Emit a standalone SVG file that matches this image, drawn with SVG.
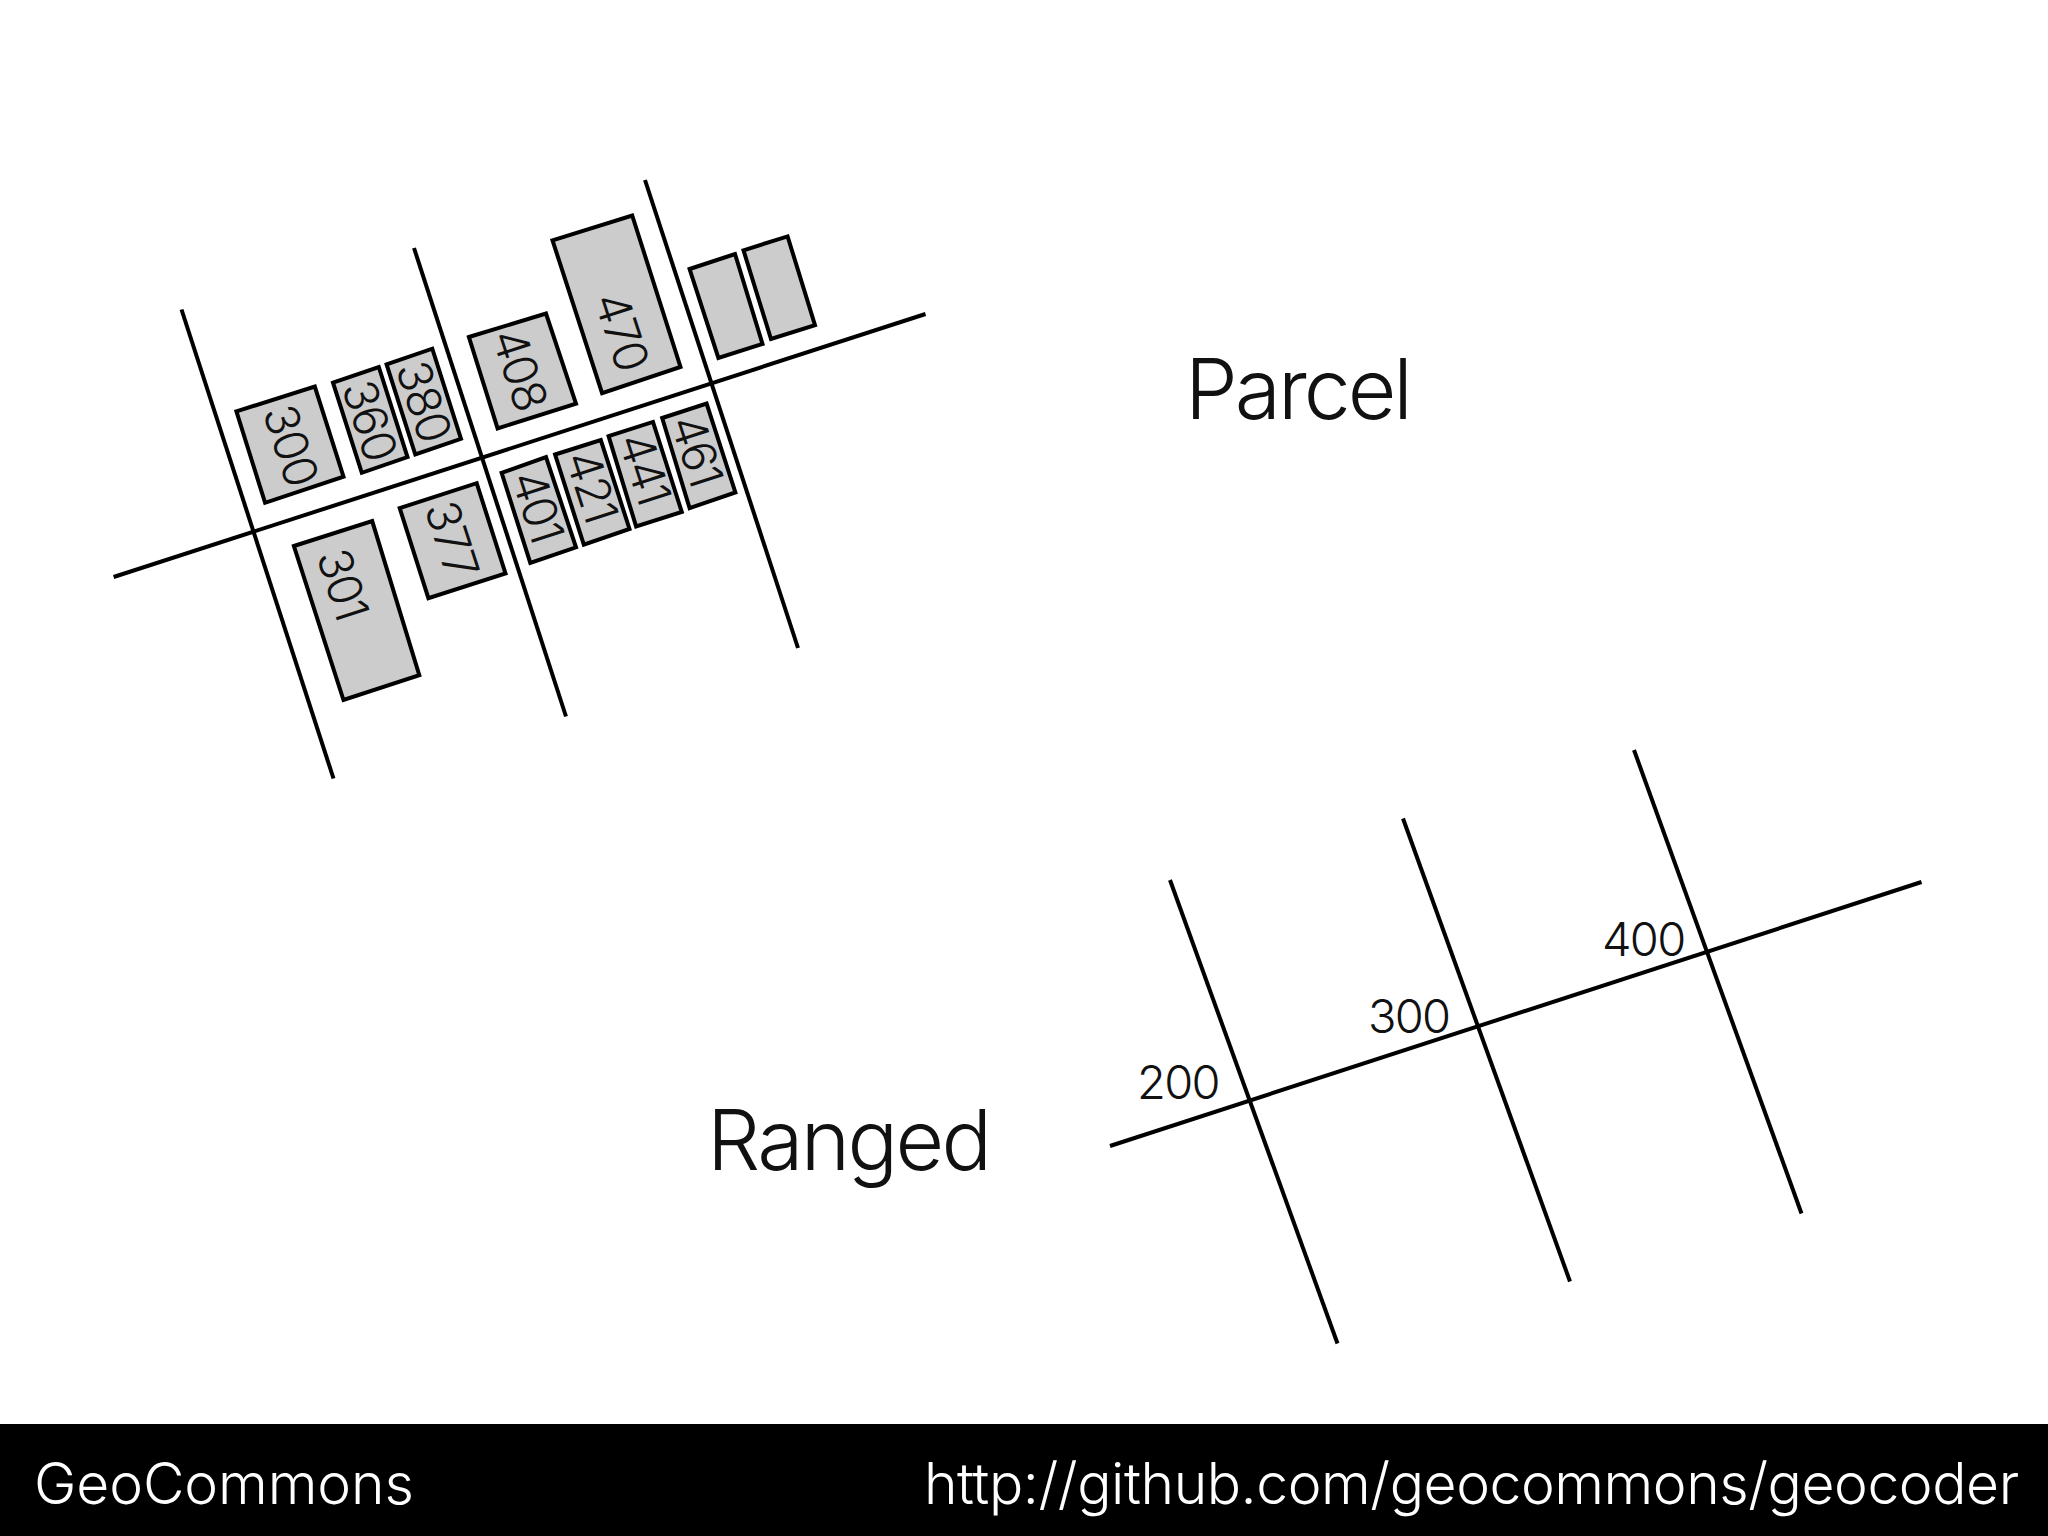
<svg xmlns="http://www.w3.org/2000/svg" width="2048" height="1536" viewBox="0 0 2048 1536">
<style>
.t{font-family:"Inter","Liberation Sans",sans-serif;font-weight:300;fill:#111}
.l{stroke:#000;stroke-width:4;fill:none;stroke-linecap:butt}
.p{fill:#ccc;stroke:#000;stroke-width:4;stroke-linejoin:miter}
.n{font-size:47px;text-anchor:middle;letter-spacing:-1.7px}
.h{font-size:84px;letter-spacing:-3px}
.f{font-size:57px;fill:#fff;letter-spacing:-0.1px}
</style>
<rect width="2048" height="1536" fill="#fff"/>
<g id="parcels">
<g id="p300"><polygon class="p" points="236.4,411.4 314.8,386.6 343.5,476.7 265.1,502.8"/><text class="t n" transform="translate(291,445) rotate(72)" dy="17">300</text></g>
<g id="p360"><polygon class="p" points="333,382.7 378.8,367 407.5,457.1 361.8,472.8"/><text class="t n" transform="translate(370,420) rotate(72)" dy="17">360</text></g>
<g id="p380"><polygon class="p" points="386.6,364.4 432.3,348.7 461,438.8 415.3,454.5"/><text class="t n" transform="translate(424,401) rotate(72)" dy="17">380</text></g>
<g id="p408"><polygon class="p" points="468.9,337 546,313.5 576,403.6 497.6,428.4"/><text class="t n" transform="translate(520,369) rotate(72)" dy="17">408</text></g>
<g id="p470"><polygon class="p" points="552.5,240.3 632.2,215.5 680.5,367 602.1,393.1"/><text class="t n" transform="translate(622,331) rotate(72)" dy="17">470</text></g>
<g id="pa"><polygon class="p" points="689.6,269 735,254 762.5,344 718.4,357.9"/></g>
<g id="pb"><polygon class="p" points="743.5,250.3 787.6,236.4 815,325.2 771,339"/></g>
<g id="p301"><polygon class="p" points="293.9,546 372.2,521.1 419.3,675.2 343.5,700"/><text class="t n" transform="translate(343,584) rotate(72)" dy="17">301</text></g>
<g id="p377"><polygon class="p" points="399.7,508.1 476.7,483.2 505.5,573.4 428.4,598.2"/><text class="t n" transform="translate(452,539) rotate(72)" dy="17">377</text></g>
<g id="p401"><polygon class="p" points="501.6,472.8 546,457.1 576,547.3 530.3,562.9"/><text class="t n" transform="translate(538,506) rotate(72)" dy="17">401</text></g>
<g id="p421"><polygon class="p" points="555.1,454.5 600.8,440.1 629.5,529 583.8,544.6"/><text class="t n" transform="translate(592,486) rotate(72)" dy="17">421</text></g>
<g id="p441"><polygon class="p" points="608.6,436.2 653,421.9 681.8,512 636.1,526.4"/><text class="t n" transform="translate(645,468) rotate(72)" dy="17">441</text></g>
<g id="p461"><polygon class="p" points="662.2,418 706.6,403.6 735.4,492.4 689.6,508.1"/><text class="t n" transform="translate(697,450) rotate(72)" dy="17">461</text></g>
</g>
<g id="connectors">
<line class="l" x1="181.5" y1="309.5" x2="333.5" y2="778.5"/>
<line class="l" x1="414" y1="248" x2="566" y2="716.5"/>
<line class="l" x1="645" y1="180" x2="798" y2="648"/>
<line class="l" x1="113.6" y1="577" x2="925.5" y2="314"/>
<line class="l" x1="1110" y1="1146" x2="1921.5" y2="882"/>
<line class="l" x1="1170" y1="880" x2="1337.5" y2="1343.5"/>
<line class="l" x1="1403" y1="818.5" x2="1570" y2="1281.5"/>
<line class="l" x1="1634" y1="750" x2="1801.5" y2="1213.5"/>
</g>
<g id="labels">
<text class="t" style="letter-spacing:-1.7px" font-size="47" x="1137" y="1099">200</text>
<text class="t" style="letter-spacing:-1.7px" font-size="47" x="1368" y="1033">300</text>
<text class="t" style="letter-spacing:-1.7px" font-size="47" x="1602" y="956">400</text>
<text class="t h" x="1185" y="419">Parcel</text>
<text class="t" style="font-size:84px;letter-spacing:-2.6px" x="707" y="1170">Ranged</text>
</g>
<g id="footer">
<rect x="0" y="1424" width="2048" height="112" fill="#000"/>
<text class="t f" x="34" y="1504">GeoCommons</text>
<text class="t f" style="letter-spacing:-0.45px" x="924" y="1504">http://github.com/geocommons/geocoder</text>
</g>
</svg>
